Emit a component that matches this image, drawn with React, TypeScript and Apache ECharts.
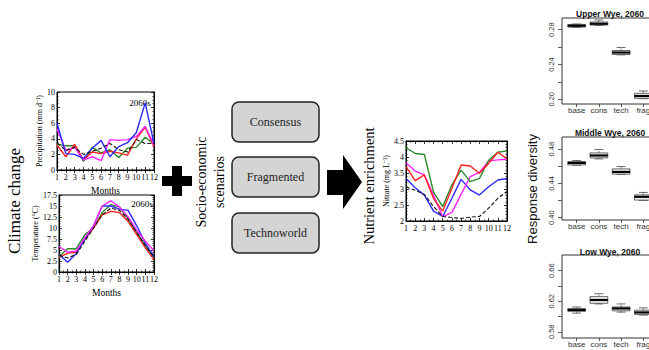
import React, { useEffect, useRef } from "react";
import * as echarts from "echarts";

const months = [1, 2, 3, 4, 5, 6, 7, 8, 9, 10, 11, 12];

const precipBlue = [6.0, 2.1, 2.0, 1.5, 2.8, 3.8, 1.7, 3.0, 3.5, 4.8, 8.6, 3.4];
const precipMagenta = [5.3, 2.5, 2.9, 1.3, 1.7, 1.2, 3.9, 3.8, 3.9, 4.3, 5.6, 3.2];
const precipRed = [3.2, 1.7, 3.3, 1.3, 2.3, 2.1, 2.4, 2.2, 1.9, 4.0, 5.5, 3.0];
const precipGreen = [3.3, 3.1, 3.1, 1.1, 2.9, 2.2, 2.6, 1.6, 2.8, 2.9, 4.2, 3.3];
const precipBlack = [3.5, 2.5, 2.9, 2.0, 2.4, 2.8, 3.4, 2.6, 2.3, 3.9, 3.4, 3.4];

const tempBlue = [4.0, 2.2, 4.2, 7.5, 10.5, 15.0, 15.0, 14.3, 14.0, 10.5, 6.5, 3.5];
const tempMagenta = [5.8, 4.5, 4.8, 7.8, 10.5, 15.0, 16.2, 14.8, 12.5, 9.5, 7.0, 4.8];
const tempGreen = [3.5, 5.3, 5.3, 8.5, 10.0, 13.5, 15.3, 14.8, 12.0, 9.0, 6.0, 3.2];
const tempRed = [3.3, 4.3, 4.5, 7.5, 10.0, 13.0, 13.8, 13.5, 11.5, 8.5, 5.5, 2.8];
const tempBlack = [3.8, 3.2, 4.0, 7.0, 10.0, 13.0, 14.5, 14.0, 12.0, 9.0, 6.0, 3.3];

const nitrateGreen = [4.29, 4.11, 4.08, 2.9, 2.45, 3.13, 3.59, 3.23, 3.33, 3.9, 4.15, 4.19];
const nitrateRed = [3.7, 3.26, 3.44, 2.7, 2.31, 3.02, 3.75, 3.72, 3.49, 3.8, 4.15, 3.94];
const nitrateMagenta = [3.82, 3.56, 3.44, 2.8, 2.14, 2.27, 2.83, 3.39, 3.52, 3.88, 3.91, 3.93];
const nitrateBlue = [3.33, 3.04, 2.81, 2.31, 2.14, 2.71, 3.3, 2.97, 2.81, 3.07, 3.28, 3.33];
const nitrateBlack = [3.07, 2.96, 2.83, 2.45, 2.14, 2.11, 2.08, 2.12, 2.14, 2.4, 2.71, 2.92];

const boxCategories = ["base", "cons", "tech", "frag"];
// [min, q1, median, q3, max]
const upperWye = [
  [0.2827, 0.2831, 0.2846, 0.2861, 0.2866],
  [0.285, 0.2854, 0.2869, 0.2889, 0.2912],
  [0.2511, 0.2515, 0.2538, 0.2561, 0.2596],
  [0.2007, 0.2011, 0.2038, 0.2069, 0.2096],
];
const upperWyeOutliers = [[4, 0.2138]];
const middleWye = [
  [0.4613, 0.4617, 0.464, 0.4655, 0.4668],
  [0.4687, 0.4699, 0.4727, 0.4757, 0.4797],
  [0.4505, 0.4509, 0.4535, 0.457, 0.4598],
  [0.4202, 0.4206, 0.4244, 0.4267, 0.4295],
];
const lowWye = [
  [0.6045, 0.6071, 0.6084, 0.6106, 0.6125],
  [0.6165, 0.6174, 0.6217, 0.6261, 0.6299],
  [0.6058, 0.6075, 0.6106, 0.6126, 0.6165],
  [0.6019, 0.6028, 0.6054, 0.6084, 0.6114],
];

const upperTicks = [0.2, 0.22, 0.24, 0.26, 0.28];
const upperLabels = [0.2, 0.24, 0.28];
const middleTicks = [0.4, 0.42, 0.44, 0.46, 0.48];
const middleLabels = [0.4, 0.44, 0.48];
const lowTicks = [0.58, 0.6, 0.62, 0.64, 0.66];
const lowLabels = [0.58, 0.62, 0.66];

const SERIF = "'Liberation Serif', 'Times New Roman', serif";
const SANS = "'Liberation Sans', Arial, sans-serif";

const BLUE = "#2a2aff";
const MAGENTA = "#ff22ff";
const RED = "#ff2222";
const GREEN = "#2a8a2a";
const BLACK = "#111111";

function lineAxes(
  grid: number,
  yMin: number,
  yMax: number,
  yInt: number,
  yMinor: number,
  yName: string,
  yGap: number,
  yDecimals: boolean
) {
  const tick = { show: true, inside: true, length: 3, lineStyle: { color: "#000", width: 0.8 } };
  const minor = { show: true, splitNumber: 0, length: 1.6, lineStyle: { color: "#000", width: 0.6 } };
  const line = { show: true, lineStyle: { color: "#000", width: 1 } };
  const xs = [
    {
      type: "value",
      gridIndex: grid,
      min: 1,
      max: 12,
      interval: 1,
      position: "bottom",
      axisLine: line,
      axisTick: tick,
      minorTick: { ...minor, splitNumber: 2 },
      splitLine: { show: false },
      axisLabel: { fontFamily: SERIF, fontSize: 8, color: "#000", margin: 3 },
      name: grid === 2 ? "" : "Months",
      nameLocation: "middle",
      nameGap: 16,
      nameTextStyle: { fontFamily: SERIF, fontSize: 9.5, color: "#000" },
    },
    {
      type: "value",
      gridIndex: grid,
      min: 1,
      max: 12,
      interval: 1,
      position: "top",
      axisLine: line,
      axisTick: tick,
      minorTick: { ...minor, splitNumber: 2 },
      splitLine: { show: false },
      axisLabel: { show: false },
    },
  ];
  const ys = [
    {
      type: "value",
      gridIndex: grid,
      min: yMin,
      max: yMax,
      interval: yInt,
      position: "left",
      axisLine: line,
      axisTick: tick,
      minorTick: { ...minor, splitNumber: yMinor },
      splitLine: { show: false },
      axisLabel: {
        fontFamily: SERIF,
        fontSize: 8,
        color: "#000",
        margin: 2,
        formatter: (v: number) => (yDecimals ? String(Math.round(v * 10) / 10) : String(v)),
      },
      name: yName,
      nameLocation: "middle",
      nameGap: yGap,
      nameTextStyle: { fontFamily: SERIF, fontSize: 8, color: "#000" },
    },
    {
      type: "value",
      gridIndex: grid,
      min: yMin,
      max: yMax,
      interval: yInt,
      position: "right",
      axisLine: line,
      axisTick: tick,
      minorTick: { ...minor, splitNumber: yMinor },
      splitLine: { show: false },
      axisLabel: { show: false },
    },
  ];
  return { xs, ys };
}

function lineSeries(values: number[], color: string, axisIndex: number, dashed = false) {
  return {
    type: "line",
    xAxisIndex: axisIndex,
    yAxisIndex: axisIndex,
    data: months.map((m, i) => [m, values[i]]),
    symbol: "none",
    silent: true,
    lineStyle: { color, width: dashed ? 1.1 : 1.4, type: dashed ? [4, 2] : "solid" },
    z: dashed ? 3 : 2,
  };
}

function boxAxes(grid: number, min: number, max: number, ticks: number[], labels: number[]) {
  const tickStyle = { color: "#333", width: 0.8 };
  return {
    x: {
      type: "value",
      gridIndex: grid,
      min: 0.34,
      max: 4.66,
      axisLine: { show: false },
      splitLine: { show: false },
      axisTick: { show: true, customValues: [1, 2, 3, 4], length: 3, lineStyle: tickStyle },
      axisLabel: {
        customValues: [1, 2, 3, 4],
        formatter: (v: number) => boxCategories[Math.round(v) - 1],
        fontFamily: SANS,
        fontSize: 8,
        color: "#333",
        margin: 2,
      },
    },
    y: {
      type: "value",
      gridIndex: grid,
      min,
      max,
      axisLine: { show: false },
      splitLine: { show: false },
      axisTick: { show: true, customValues: ticks, length: 4, lineStyle: tickStyle },
      axisLabel: {
        customValues: labels,
        rotate: 90,
        formatter: (v: number) => v.toFixed(2),
        fontFamily: SANS,
        fontSize: 7.5,
        color: "#333",
        margin: 7,
      },
    },
  };
}

function boxRender(params: any, api: any) {
  const x = api.value(0);
  const lo = api.value(1);
  const q1 = api.value(2);
  const med = api.value(3);
  const q3 = api.value(4);
  const hi = api.value(5);
  const cx = api.coord([x, med])[0];
  const bL = api.coord([x - 0.4, med])[0];
  const bR = api.coord([x + 0.4, med])[0];
  const sL = api.coord([x - 0.2, med])[0];
  const sR = api.coord([x + 0.2, med])[0];
  const yLo = api.coord([x, lo])[1];
  const yHi = api.coord([x, hi])[1];
  const yQ1 = api.coord([x, q1])[1];
  const yQ3 = api.coord([x, q3])[1];
  const yMed = api.coord([x, med])[1];
  const stroke = "#444";
  return {
    type: "group",
    children: [
      { type: "line", shape: { x1: cx, y1: yQ3, x2: cx, y2: yHi }, style: { stroke, lineWidth: 0.7, lineDash: [2, 1.5] } },
      { type: "line", shape: { x1: cx, y1: yQ1, x2: cx, y2: yLo }, style: { stroke, lineWidth: 0.7, lineDash: [2, 1.5] } },
      { type: "line", shape: { x1: sL, y1: yHi, x2: sR, y2: yHi }, style: { stroke, lineWidth: 0.8 } },
      { type: "line", shape: { x1: sL, y1: yLo, x2: sR, y2: yLo }, style: { stroke, lineWidth: 0.8 } },
      {
        type: "rect",
        shape: { x: bL, y: yQ3, width: bR - bL, height: Math.max(yQ1 - yQ3, 1) },
        style: { fill: "#f4f4f4", stroke, lineWidth: 0.8 },
      },
      { type: "line", shape: { x1: bL, y1: yMed, x2: bR, y2: yMed }, style: { stroke: "#000", lineWidth: 2.2 } },
    ],
  };
}

function boxSeries(stats: number[][], axisIndex: number) {
  return {
    type: "custom",
    xAxisIndex: axisIndex,
    yAxisIndex: axisIndex,
    renderItem: boxRender,
    silent: true,
    clip: false,
    data: stats.map((s, i) => [i + 1, ...s]),
    encode: { x: 0, y: [1, 2, 3, 4, 5] },
  };
}

export default function App() {
  const ref = useRef<HTMLDivElement>(null);

  useEffect(() => {
    if (!ref.current) return;
    const chart = echarts.init(ref.current, undefined, { renderer: "svg" });

    const p = lineAxes(0, 0, 10, 2, 4, "Precipitation (mm d\u207B\u00B9)", 13, false);
    const t = lineAxes(1, 0, 17.5, 2.5, 5, "Temperature (\u00B0C)", 17, true);
    const n = lineAxes(2, 2, 4.5, 0.5, 5, "Nitrate (mg L\u207B\u00B9)", 13, true);
    const bu = boxAxes(3, 0.1946, 0.2935, upperTicks, upperLabels);
    const bm = boxAxes(4, 0.3973, 0.4943, middleTicks, middleLabels);
    const bl = boxAxes(5, 0.5719, 0.6806, lowTicks, lowLabels);

    const frame = { show: true, borderColor: "#000", borderWidth: 1, backgroundColor: "transparent", outerBoundsMode: "none", containLabel: false };
    const boxFrame = { show: true, borderColor: "#333", borderWidth: 1, backgroundColor: "transparent", outerBoundsMode: "none", containLabel: false };

    const boxFill = "#d4d4d4";
    const boxStroke = "#222";

    const option: any = {
      animation: false,
      backgroundColor: "#ffffff",
      grid: [
        { left: 57, top: 92, width: 97, height: 78, ...frame },
        { left: 59, top: 195, width: 95, height: 77, ...frame },
        { left: 406, top: 141, width: 101, height: 80, ...frame },
        { left: 562, top: 18, width: 96, height: 86, ...boxFrame },
        { left: 562, top: 137, width: 96, height: 83, ...boxFrame },
        { left: 562, top: 255, width: 96, height: 83, ...boxFrame },
      ],
      xAxis: [...p.xs, ...t.xs, ...n.xs, bu.x, bm.x, bl.x],
      yAxis: [...p.ys, ...t.ys, ...n.ys, bu.y, bm.y, bl.y],
      series: [
        lineSeries(precipGreen, GREEN, 0),
        lineSeries(precipRed, RED, 0),
        lineSeries(precipMagenta, MAGENTA, 0),
        lineSeries(precipBlue, BLUE, 0),
        lineSeries(precipBlack, BLACK, 0, true),
        lineSeries(tempGreen, GREEN, 2),
        lineSeries(tempRed, RED, 2),
        lineSeries(tempBlue, BLUE, 2),
        lineSeries(tempMagenta, MAGENTA, 2),
        lineSeries(tempBlack, BLACK, 2, true),
        lineSeries(nitrateBlue, BLUE, 4),
        lineSeries(nitrateMagenta, MAGENTA, 4),
        lineSeries(nitrateGreen, GREEN, 4),
        lineSeries(nitrateRed, RED, 4),
        lineSeries(nitrateBlack, BLACK, 4, true),
        boxSeries(upperWye, 6),
        boxSeries(middleWye, 7),
        boxSeries(lowWye, 8),
        {
          type: "scatter",
          xAxisIndex: 6,
          yAxisIndex: 6,
          data: upperWyeOutliers,
          symbol: "emptyCircle",
          symbolSize: 2.5,
          itemStyle: { color: "#fff", borderColor: "#444", borderWidth: 0.7 },
          silent: true,
        },
      ],
      graphic: [
        {
          type: "text",
          x: 14,
          y: 201,
          rotation: Math.PI / 2,
          style: { text: "Climate change", font: `17px ${SERIF}`, fill: "#000", textAlign: "center", textVerticalAlign: "middle" },
        },
        { type: "text", x: 140, y: 103, style: { text: "2060s", font: `9px ${SERIF}`, fill: "#000", textAlign: "center", textVerticalAlign: "middle" } },
        { type: "text", x: 142, y: 204, style: { text: "2060s", font: `9px ${SERIF}`, fill: "#000", textAlign: "center", textVerticalAlign: "middle" } },
        { type: "rect", shape: { x: 162, y: 176, width: 30, height: 10 }, style: { fill: "#000" } },
        { type: "rect", shape: { x: 172, y: 166, width: 10, height: 30 }, style: { fill: "#000" } },
        {
          type: "text",
          x: 201,
          y: 182,
          rotation: Math.PI / 2,
          style: { text: "Socio-economic", font: `14px ${SERIF}`, fill: "#000", textAlign: "center", textVerticalAlign: "middle" },
        },
        {
          type: "text",
          x: 219,
          y: 182,
          rotation: Math.PI / 2,
          style: { text: "scenarios", font: `14px ${SERIF}`, fill: "#000", textAlign: "center", textVerticalAlign: "middle" },
        },
        { type: "rect", shape: { x: 232, y: 102, width: 87, height: 40, r: 7 }, style: { fill: boxFill, stroke: boxStroke, lineWidth: 1.5 } },
        { type: "rect", shape: { x: 232, y: 157, width: 87, height: 40, r: 7 }, style: { fill: boxFill, stroke: boxStroke, lineWidth: 1.5 } },
        { type: "rect", shape: { x: 232, y: 213, width: 87, height: 40, r: 7 }, style: { fill: boxFill, stroke: boxStroke, lineWidth: 1.5 } },
        { type: "text", x: 275.5, y: 122, style: { text: "Consensus", font: `12px ${SERIF}`, fill: "#222", textAlign: "center", textVerticalAlign: "middle" } },
        { type: "text", x: 275.5, y: 177, style: { text: "Fragmented", font: `12px ${SERIF}`, fill: "#222", textAlign: "center", textVerticalAlign: "middle" } },
        { type: "text", x: 275.5, y: 233, style: { text: "Technoworld", font: `12px ${SERIF}`, fill: "#222", textAlign: "center", textVerticalAlign: "middle" } },
        {
          type: "polygon",
          shape: {
            points: [
              [327, 170],
              [343, 170],
              [343, 155],
              [362, 182],
              [343, 209],
              [343, 195],
              [327, 195],
            ],
          },
          style: { fill: "#000" },
        },
        {
          type: "text",
          x: 369,
          y: 186,
          rotation: Math.PI / 2,
          style: { text: "Nutrient enrichment", font: `14.5px ${SERIF}`, fill: "#000", textAlign: "center", textVerticalAlign: "middle" },
        },
        {
          type: "text",
          x: 532,
          y: 189,
          rotation: Math.PI / 2,
          style: { text: "Response diversity", font: `13px ${SANS}`, fill: "#111", textAlign: "center", textVerticalAlign: "middle" },
        },
        { type: "text", x: 610, y: 14, style: { text: "Upper Wye, 2060", font: `bold 8.5px ${SANS}`, fill: "#111", textAlign: "center", textVerticalAlign: "middle" } },
        { type: "text", x: 610, y: 132.5, style: { text: "Middle Wye, 2060", font: `bold 8.5px ${SANS}`, fill: "#111", textAlign: "center", textVerticalAlign: "middle" } },
        { type: "text", x: 610, y: 251.5, style: { text: "Low Wye, 2060", font: `bold 8.5px ${SANS}`, fill: "#111", textAlign: "center", textVerticalAlign: "middle" } },
      ],
    };

    chart.setOption(option);
    return () => chart.dispose();
  }, []);

  return (
    <div
      ref={ref}
      style={{ position: "fixed", left: 0, top: 0, width: 649, height: 350, background: "#fff" }}
    />
  );
}
